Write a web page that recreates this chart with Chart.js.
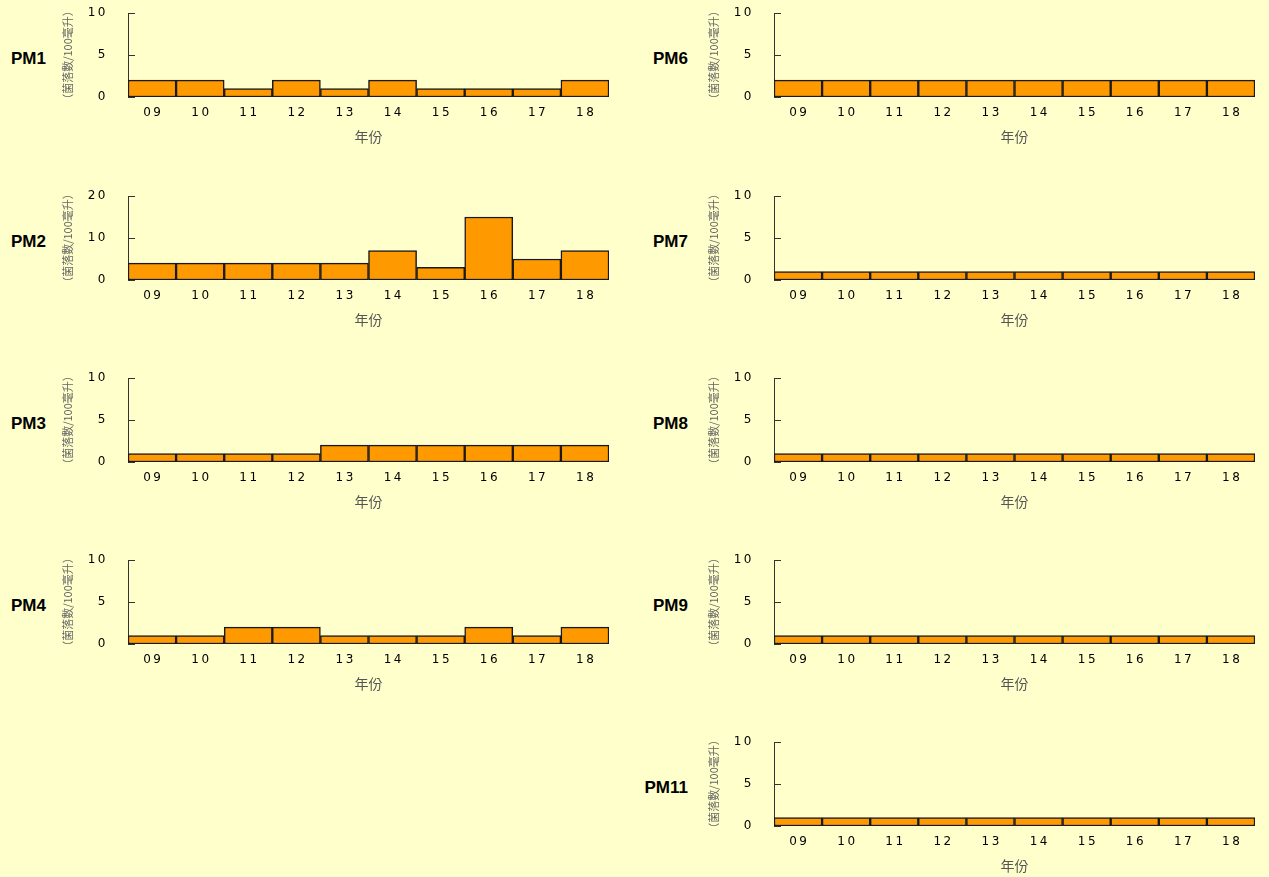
<!DOCTYPE html>
<html>
<head>
<meta charset="utf-8">
<script src="https://cdn.jsdelivr.net/npm/chart.js@4/dist/chart.umd.min.js"></script>
<style>
  html, body { margin: 0; padding: 0; background: #FFFFCC; }
  body { position: relative; width: 1269px; height: 877px; overflow: hidden; }
  canvas { position: absolute; }
  .site {
    position: absolute; width: 70px; height: 20px; line-height: 20px;
    text-align: right; color: #000;
    font: bold 17px "Liberation Sans", Arial, sans-serif;
  }
</style>
</head>
<body>
<script>
// Sampling years (two-digit labels)
const years = ['09', '10', '11', '12', '13', '14', '15', '16', '17', '18'];

// Yearly values per monitoring point (菌落數/100毫升)
const pm1  = [2, 2, 1, 2, 1, 2, 1, 1, 1, 2];
const pm2  = [4, 4, 4, 4, 4, 7, 3, 15, 5, 7];
const pm3  = [1, 1, 1, 1, 2, 2, 2, 2, 2, 2];
const pm4  = [1, 1, 2, 2, 1, 1, 1, 2, 1, 2];
const pm6  = [2, 2, 2, 2, 2, 2, 2, 2, 2, 2];
const pm7  = [1, 1, 1, 1, 1, 1, 1, 1, 1, 1];
const pm8  = [1, 1, 1, 1, 1, 1, 1, 1, 1, 1];
const pm9  = [1, 1, 1, 1, 1, 1, 1, 1, 1, 1];
const pm11 = [1, 1, 1, 1, 1, 1, 1, 1, 1, 1];

// Y-axis ranges and tick steps
const yMaxSmall = 10, yStepSmall = 5;
const yMaxLarge = 20, yStepLarge = 10;

const yTitle = '（菌落數/100毫升）';
const xTitle = '年份';

// Panel grid: which series goes where
const panels = [
  { name: 'PM1',  values: pm1,  max: yMaxSmall, step: yStepSmall, col: 0, row: 0 },
  { name: 'PM2',  values: pm2,  max: yMaxLarge, step: yStepLarge, col: 0, row: 1 },
  { name: 'PM3',  values: pm3,  max: yMaxSmall, step: yStepSmall, col: 0, row: 2 },
  { name: 'PM4',  values: pm4,  max: yMaxSmall, step: yStepSmall, col: 0, row: 3 },
  { name: 'PM6',  values: pm6,  max: yMaxSmall, step: yStepSmall, col: 1, row: 0 },
  { name: 'PM7',  values: pm7,  max: yMaxSmall, step: yStepSmall, col: 1, row: 1 },
  { name: 'PM8',  values: pm8,  max: yMaxSmall, step: yStepSmall, col: 1, row: 2 },
  { name: 'PM9',  values: pm9,  max: yMaxSmall, step: yStepSmall, col: 1, row: 3 },
  { name: 'PM11', values: pm11, max: yMaxSmall, step: yStepSmall, col: 1, row: 4 }
];

// Layout: x of the y-axis line per column, y of the zero line per row
const axisX = [128, 774];
const zeroY = [97, 280, 462, 644, 826];
const labelRight = [46, 688];
const PLOT_W = 481, PLOT_H = 84, Y_AXIS_W = 68, X_AXIS_H = 50, TOP_PAD = 13;

// Short tick marks pointing into the plot, plus wide letter spacing for tick labels
const axisDecor = {
  id: 'axisDecor',
  afterDatasetsDraw(chart) {
    const ys = chart.scales.y, ctx = chart.ctx, x0 = chart.chartArea.left;
    ctx.save();
    ctx.strokeStyle = '#333';
    ctx.lineWidth = 1;
    ctx.beginPath();
    ys.ticks.forEach(t => {
      const py = Math.round(ys.getPixelForValue(t.value)) + 0.5;
      ctx.moveTo(x0, py);
      ctx.lineTo(x0 + 7, py);
    });
    ctx.stroke();
    ctx.restore();
    ctx.letterSpacing = '2.5px';
  },
  afterDraw(chart) {
    chart.ctx.letterSpacing = '0px';
  }
};

const tickFont = { family: '"DejaVu Sans", sans-serif', size: 12 };

panels.forEach(p => {
  const canvas = document.createElement('canvas');
  const left = axisX[p.col] - Y_AXIS_W;
  const top = zeroY[p.row] - PLOT_H - TOP_PAD;
  canvas.width = Y_AXIS_W + PLOT_W;
  canvas.height = TOP_PAD + PLOT_H + X_AXIS_H;
  canvas.style.left = left + 'px';
  canvas.style.top = top + 'px';
  canvas.style.width = canvas.width + 'px';
  canvas.style.height = canvas.height + 'px';
  document.body.appendChild(canvas);

  const label = document.createElement('div');
  label.className = 'site';
  label.textContent = p.name;
  label.style.left = (labelRight[p.col] - 70) + 'px';
  label.style.top = (zeroY[p.row] - 38 - 10) + 'px';
  document.body.appendChild(label);

  new Chart(canvas, {
    type: 'bar',
    data: {
      labels: years,
      datasets: [{
        data: p.values,
        backgroundColor: '#FF9900',
        borderColor: '#1a1a1a',
        borderWidth: 1.5,
        borderSkipped: false,
        categoryPercentage: 1,
        barPercentage: 1
      }]
    },
    options: {
      responsive: false,
      animation: false,
      events: [],
      layout: { padding: { top: TOP_PAD, left: 0, right: 0, bottom: 0 } },
      plugins: { legend: { display: false }, tooltip: { enabled: false } },
      scales: {
        x: {
          grid: { display: false, drawTicks: false },
          border: { display: false },
          ticks: {
            z: 1, padding: 9, labelOffset: 1.25, color: '#000',
            font: tickFont, maxRotation: 0, autoSkip: false
          },
          title: {
            display: true, text: xTitle, color: '#555',
            font: { family: '"Noto Sans CJK TC", sans-serif', size: 14, lineHeight: 1.2 },
            padding: { top: 0, bottom: 2 }
          },
          afterFit(s) { s.height = X_AXIS_H; s.paddingLeft = 0; s.paddingRight = 0; }
        },
        y: {
          min: 0, max: p.max,
          grid: { display: false, drawTicks: false },
          border: { display: true, color: '#333', width: 1 },
          ticks: { z: 1, stepSize: p.step, padding: 20, color: '#000', font: tickFont },
          title: {
            display: true, text: yTitle, color: '#666',
            font: { family: '"Noto Sans CJK TC", sans-serif', size: 11, lineHeight: 1.2 },
            padding: { top: 1, bottom: 0 }
          },
          afterFit(s) { s.width = Y_AXIS_W; s.paddingTop = 0; s.paddingBottom = 0; }
        }
      }
    },
    plugins: [axisDecor]
  });
});
</script>
</body>
</html>
